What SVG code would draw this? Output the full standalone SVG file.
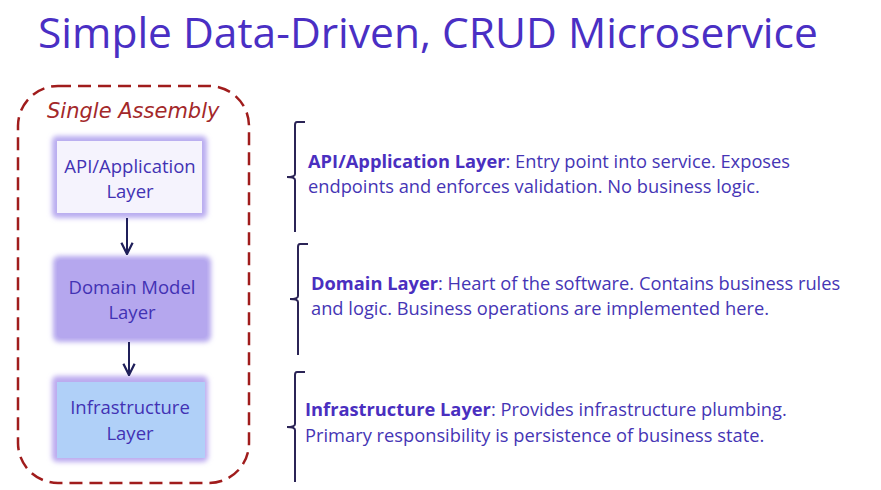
<svg xmlns="http://www.w3.org/2000/svg" width="881" height="490" viewBox="0 0 881 490">
  <defs>
    <filter id="soft" x="-20%" y="-20%" width="140%" height="140%">
      <feGaussianBlur stdDeviation="2.5"/>
    </filter>
    <marker id="arrow" viewBox="0 0 10 10" refX="9" refY="5" markerWidth="7" markerHeight="7" orient="auto">
      <path d="M1,1 L9,5 L1,9" fill="none" stroke="#1f1f5a" stroke-width="1.6"/>
    </marker>
  </defs>
  <style>
    .title { font-family: "Open Sans", "Noto Sans", sans-serif; font-size: 42.5px; fill: #4a2fc4; }
    .hand { font-family: "DejaVu Sans", sans-serif; font-style: italic; font-size: 21px; fill: #a3282a; }
    .box-text { font-family: "Open Sans", "Noto Sans", sans-serif; font-size: 18.5px; fill: #4232b4; text-anchor: middle; }
    .desc { font-family: "Open Sans", "Noto Sans", sans-serif; font-size: 18.3px; fill: #4535b5; }
    .desc .b { font-weight: bold; fill: #4a2fc0; }
    .brace { fill: none; stroke: #2b2456; stroke-width: 2; }
    .conn { stroke: #1f1f5a; stroke-width: 2; marker-end: url(#arrow); }
  </style>

  <rect width="881" height="490" fill="#ffffff"/>

  <text class="title" x="38" y="48">Simple Data-Driven, CRUD Microservice</text>

  <!-- assembly boundary -->
  <g id="assembly">
    <rect x="18" y="86" width="231" height="397" rx="40" ry="40" fill="none" stroke="#a01c1c" stroke-width="2.5" stroke-dasharray="13 7"/>
    <text class="hand" x="47" y="118">Single Assembly</text>
  </g>

  <!-- layer nodes -->
  <g id="api-layer">
    <rect x="52" y="136" width="155" height="82" rx="5" fill="#b9acf0" filter="url(#soft)"/>
    <rect x="57" y="141" width="145" height="72" fill="#f5f3fd"/>
    <text class="box-text" x="130" y="173">API/Application</text>
    <text class="box-text" x="130" y="198">Layer</text>
  </g>

  <g id="domain-layer">
    <rect x="53" y="256" width="158" height="86" rx="6" fill="#b5a7ee" filter="url(#soft)"/>
    <rect x="57" y="260" width="150" height="78" rx="5" fill="#b5a7ee"/>
    <text class="box-text" x="132" y="294">Domain Model</text>
    <text class="box-text" x="132" y="319">Layer</text>
  </g>

  <g id="infrastructure-layer">
    <rect x="52" y="376" width="156" height="86" rx="5" fill="#bcaaef" filter="url(#soft)"/>
    <rect x="57" y="382" width="148" height="76" fill="#b0d0f8"/>
    <text class="box-text" x="130" y="414">Infrastructure</text>
    <text class="box-text" x="130" y="440">Layer</text>
  </g>

  <!-- connectors -->
  <g id="connectors">
    <line class="conn" x1="127" y1="218" x2="127" y2="254"/>
    <line class="conn" x1="129" y1="342" x2="129" y2="375"/>
  </g>

  <!-- braces -->
  <g id="braces">
    <path class="brace" d="M305,122 L297,122 Q295,122 295,125 L295,174 Q295,177 287,177 Q295,177 295,180 L295,232"/>
    <path class="brace" d="M308,244 L300,244 Q298,244 298,247 L298,296 Q298,299 290,299 Q298,299 298,302 L298,355"/>
    <path class="brace" d="M305,372 L297,372 Q295,372 295,375 L295,424 Q295,427 287,427 Q295,427 295,430 L295,482"/>
  </g>

  <!-- descriptions -->
  <g id="api-desc">
    <text class="desc" x="308" y="168"><tspan class="b">API/Application Layer</tspan>: Entry point into service. Exposes</text>
    <text class="desc" x="308" y="193">endpoints and enforces validation. No business logic.</text>
  </g>
  <g id="domain-desc">
    <text class="desc" x="311" y="290"><tspan class="b">Domain Layer</tspan>: Heart of the software. Contains business rules</text>
    <text class="desc" x="311" y="315">and logic. Business operations are implemented here.</text>
  </g>
  <g id="infrastructure-desc">
    <text class="desc" x="305" y="416"><tspan class="b">Infrastructure Layer</tspan>: Provides infrastructure plumbing.</text>
    <text class="desc" x="305" y="442">Primary responsibility is persistence of business state.</text>
  </g>
</svg>
